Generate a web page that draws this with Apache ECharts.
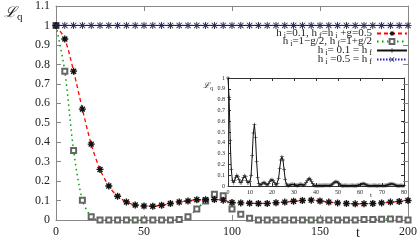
<!DOCTYPE html>
<html>
<head>
<meta charset="utf-8">
<script src="https://cdn.jsdelivr.net/npm/echarts@6/dist/echarts.min.js"></script>
<style>
  html, body { margin: 0; padding: 0; background: #fff; }
  #main { width: 420px; height: 244px; }
</style>
</head>
<body>
<div id="main"></div>
<script>
// main plot: L_q against t, one point every 5
var tMain = [0, 5, 10, 15, 20, 25, 30, 35, 40, 45, 50, 55, 60, 65, 70, 75, 80, 85, 90, 95, 100,
    105, 110, 115, 120, 125, 130, 135, 140, 145, 150, 155, 160, 165, 170, 175, 180, 185, 190, 195, 200];
var quenchUp = [1.0, 0.93, 0.765, 0.57, 0.39, 0.26, 0.175, 0.122, 0.093, 0.077, 0.072, 0.071, 0.076, 0.085, 0.093, 0.098, 0.104, 0.104, 0.105, 0.102, 0.09,
    0.088, 0.086, 0.085, 0.085, 0.089, 0.092, 0.096, 0.1, 0.102, 0.098, 0.092, 0.088, 0.085, 0.083, 0.084, 0.085, 0.088, 0.092, 0.095, 0.1];
var quenchSym = [1.0, 0.765, 0.357, 0.102, 0.017, 0, 0, 0, 0, 0, 0, 0, 0, 0, 0.003, 0.017, 0.057, 0.098, 0.133, 0.125, 0.056,
    0.029, 0.009, 0, 0, 0, 0, 0, 0, 0, 0, 0, 0, 0, 0, 0.002, 0.003, 0.004, 0.005, 0.004, 0];
var noQuench01 = [1, 1, 1, 1, 1, 1, 1, 1, 1, 1, 1, 1, 1, 1, 1, 1, 1, 1, 1, 1, 1,
    1, 1, 1, 1, 1, 1, 1, 1, 1, 1, 1, 1, 1, 1, 1, 1, 1, 1, 1, 1];
var noQuench05 = [1, 1, 1, 1, 1, 1, 1, 1, 1, 1, 1, 1, 1, 1, 1, 1, 1, 1, 1, 1, 1,
    1, 1, 1, 1, 1, 1, 1, 1, 1, 1, 1, 1, 1, 1, 1, 1, 1, 1, 1, 1];

// inset: zoom on the start, one point every 0.5
var tInset = [0, 0.5, 1, 1.5, 2, 2.5, 3, 3.5, 4, 4.5, 5, 5.5, 6, 6.5, 7, 7.5, 8, 8.5, 9, 9.5,
    10, 10.5, 11, 11.5, 12, 12.5, 13, 13.5, 14, 14.5, 15, 15.5, 16, 16.5, 17, 17.5, 18, 18.5, 19, 19.5,
    20, 20.5, 21, 21.5, 22, 22.5, 23, 23.5, 24, 24.5, 25, 25.5, 26, 26.5, 27, 27.5, 28, 28.5, 29, 29.5,
    30, 30.5, 31, 31.5, 32, 32.5, 33, 33.5, 34, 34.5, 35, 35.5, 36, 36.5, 37, 37.5, 38, 38.5, 39, 39.5,
    40, 40.5, 41, 41.5, 42, 42.5, 43, 43.5, 44, 44.5, 45, 45.5, 46, 46.5, 47, 47.5, 48, 48.5, 49, 49.5,
    50, 50.5, 51, 51.5, 52, 52.5, 53, 53.5, 54, 54.5, 55, 55.5, 56, 56.5, 57, 57.5, 58, 58.5, 59, 59.5,
    60, 60.5, 61, 61.5, 62, 62.5, 63, 63.5, 64, 64.5, 65, 65.5, 66, 66.5, 67, 67.5, 68, 68.5, 69, 69.5,
    70, 70.5, 71, 71.5, 72, 72.5, 73, 73.5, 74, 74.5, 75, 75.5, 76, 76.5, 77, 77.5, 78, 78.5, 79, 79.5, 80];
var insetVals = [1.0, 0.82, 0.42, 0.15, 0.05, 0.03, 0.05, 0.08, 0.1, 0.09, 0.06, 0.03, 0.03, 0.05, 0.08, 0.095, 0.085, 0.05, 0.03, 0.03,
    0.045, 0.1, 0.28, 0.49, 0.57, 0.45, 0.23, 0.08, 0.02, 0.008, 0.012, 0.022, 0.03, 0.03, 0.022, 0.012, 0.01, 0.02, 0.04, 0.055,
    0.058, 0.048, 0.03, 0.015, 0.01, 0.025, 0.07, 0.16, 0.24, 0.27, 0.24, 0.15, 0.06, 0.018, 0.006, 0.005, 0.008, 0.012, 0.015, 0.016,
    0.014, 0.01, 0.006, 0.005, 0.008, 0.013, 0.016, 0.014, 0.01, 0.008, 0.015, 0.03, 0.05, 0.065, 0.07, 0.06, 0.04, 0.02, 0.008, 0.004,
    0.003, 0.003, 0.004, 0.005, 0.005, 0.004, 0.004, 0.005, 0.006, 0.007, 0.007, 0.006, 0.005, 0.006, 0.01, 0.018, 0.027, 0.035, 0.04, 0.039,
    0.032, 0.02, 0.01, 0.005, 0.003, 0.003, 0.004, 0.004, 0.004, 0.003, 0.003, 0.004, 0.005, 0.005, 0.004, 0.003, 0.003, 0.004, 0.006, 0.009,
    0.013, 0.017, 0.02, 0.021, 0.019, 0.015, 0.01, 0.006, 0.004, 0.003, 0.003, 0.004, 0.005, 0.005, 0.004, 0.003, 0.003, 0.004, 0.004, 0.004,
    0.003, 0.003, 0.004, 0.005, 0.007, 0.01, 0.013, 0.017, 0.019, 0.02, 0.018, 0.014, 0.009, 0.005, 0.003, 0.003, 0.003, 0.004, 0.004, 0.003, 0.003];

var seriesNames = ['h_i=0.1, h_f=h_i+g=0.5', 'h_i=1-g/2, h_f=1+g/2', 'h_i=0.1=h_f', 'h_i=0.5=h_f'];
var legendLabels = [
    '{n|h}{s| i}{n|=0.1, h}{s| f}{n|=h}{s| i}{n| +g=0.5}',
    '{n|h}{s| i}{n|=1\u2212g/2, h}{s| f}{n|=1+g/2}',
    '{n|h}{s| i}{n|= 0.1 = h}{s| f}',
    '{n|h}{s| i}{n| =0.5 = h}{s| f}'
];
var legendTops = [28, 36, 45, 54];

var serif = 'Liberation Serif';
var asterisk = 'path://M-1,-5L1,-5L1,5L-1,5Z M-5,-1L5,-1L5,1L-5,1Z M2.83,-4.24L4.24,-2.83L-2.83,4.24L-4.24,2.83Z M-4.24,-2.83L-2.83,-4.24L4.24,2.83L2.83,4.24Z';
var plus = 'path://M-0.6,-5L0.6,-5L0.6,5L-0.6,5Z M-5,-0.6L5,-0.6L5,0.6L-5,0.6Z';
var cross = 'path://M3.1,-3.9L3.9,-3.1L-3.1,3.9L-3.9,3.1Z M-3.9,-3.1L-3.1,-3.9L3.9,3.1L3.1,3.9Z';

function pairs(xs, ys) {
    return xs.map(function (x, i) { return [x, ys[i]]; });
}

function frameAxis(pos, gridIndex, min, max, interval, color, tickLen, showLabel, fontSize) {
    return {
        type: 'value',
        gridIndex: gridIndex,
        position: pos,
        min: min,
        max: max,
        interval: interval,
        axisLine: { show: true, onZero: false, lineStyle: { color: color, width: 1 } },
        axisTick: { show: true, inside: true, length: tickLen, lineStyle: { color: color } },
        splitLine: { show: false },
        axisLabel: {
            show: showLabel,
            fontFamily: serif,
            fontSize: fontSize,
            color: '#222',
            margin: fontSize > 8 ? 6 : 3
        }
    };
}

var myChart = echarts.init(document.getElementById('main'));

var legends = seriesNames.map(function (name, i) {
    return {
        data: [name],
        right: 12,
        top: legendTops[i],
        align: 'right',
        itemWidth: 30,
        itemHeight: 6,
        padding: 0,
        selectedMode: false,
        formatter: function () { return legendLabels[i]; },
        textStyle: {
            color: '#222',
            rich: {
                n: { fontFamily: serif, fontSize: 11, color: '#222' },
                s: { fontFamily: serif, fontSize: 8, color: '#222', padding: [5, 0, 0, 0] }
            }
        }
    };
});

var option = {
    backgroundColor: '#fff',
    animation: false,
    legend: legends,
    grid: [
        { left: 56, right: 10, top: 4, bottom: 24 },
        { left: 228, right: 16, top: 78, bottom: 58 }
    ],
    xAxis: [
        frameAxis('bottom', 0, 0, 200, 50, '#888', 5, true, 12),
        frameAxis('top', 0, 0, 200, 50, '#888', 5, false, 12),
        frameAxis('bottom', 1, 0, 80, 10, '#333', 3, true, 6),
        frameAxis('top', 1, 0, 80, 10, '#333', 3, false, 6)
    ],
    yAxis: [
        frameAxis('left', 0, 0, 1.1, 0.1, '#888', 5, true, 12),
        frameAxis('right', 0, 0, 1.1, 0.1, '#888', 5, false, 12),
        frameAxis('left', 1, 0, 1, 0.1, '#333', 3, true, 6),
        frameAxis('right', 1, 0, 1, 0.1, '#333', 3, false, 6)
    ],
    graphic: [
        {
            type: 'text', left: 4, top: 6,
            style: {
                text: '{a|\u2112}{b|q}',
                rich: {
                    a: { fontFamily: 'DejaVu Serif', fontSize: 15, fontStyle: 'italic', fill: '#222' },
                    b: { fontFamily: serif, fontSize: 11, fill: '#222', padding: [8, 0, 0, 1] }
                }
            }
        },
        { type: 'text', left: 356, top: 226, style: { text: 't', fontFamily: serif, fontSize: 14, fill: '#222' } },
        {
            type: 'text', left: 203, top: 82,
            style: {
                text: '{a|\u2112}{b|q}',
                rich: {
                    a: { fontFamily: 'DejaVu Serif', fontSize: 8, fontStyle: 'italic', fill: '#222' },
                    b: { fontFamily: serif, fontSize: 6, fill: '#222', padding: [4, 0, 0, 0] }
                }
            }
        },
        { type: 'text', left: 370, top: 192, style: { text: 't', fontFamily: serif, fontSize: 7, fill: '#222' } }
    ],
    series: [
        {
            name: seriesNames[0],
            type: 'line',
            smooth: 0.3,
            xAxisIndex: 0, yAxisIndex: 0,
            data: pairs(tMain, quenchUp),
            symbol: asterisk,
            symbolSize: 7,
            itemStyle: { color: '#111' },
            lineStyle: { color: '#ff0000', width: 1.3, type: [4, 3] },
            z: 3
        },
        {
            name: seriesNames[1],
            type: 'line',
            smooth: 0.3,
            xAxisIndex: 0, yAxisIndex: 0,
            data: pairs(tMain, quenchSym),
            symbol: 'emptyRect',
            symbolSize: 5,
            itemStyle: { color: '#666', borderWidth: 1 },
            lineStyle: { color: '#00a000', width: 1.5, type: [1.5, 3.5] },
            z: 2
        },
        {
            name: seriesNames[2],
            type: 'line',
            xAxisIndex: 0, yAxisIndex: 0,
            data: pairs(tMain, noQuench01),
            symbol: plus,
            symbolSize: 7,
            itemStyle: { color: '#111' },
            lineStyle: { color: '#111', width: 1 },
            z: 4
        },
        {
            name: seriesNames[3],
            type: 'line',
            xAxisIndex: 0, yAxisIndex: 0,
            data: pairs(tMain, noQuench05),
            symbol: cross,
            symbolSize: 6,
            itemStyle: { color: '#2a2a60' },
            lineStyle: { color: '#2020c0', width: 1.2, type: [1.5, 1.5] },
            z: 5
        },
        {
            name: 'inset',
            type: 'line',
            xAxisIndex: 2, yAxisIndex: 2,
            data: pairs(tInset, insetVals),
            symbol: plus,
            symbolSize: 4,
            itemStyle: { color: '#111' },
            lineStyle: { color: '#111', width: 1 },
            z: 6
        }
    ]
};
myChart.setOption(option);
</script>
</body>
</html>
